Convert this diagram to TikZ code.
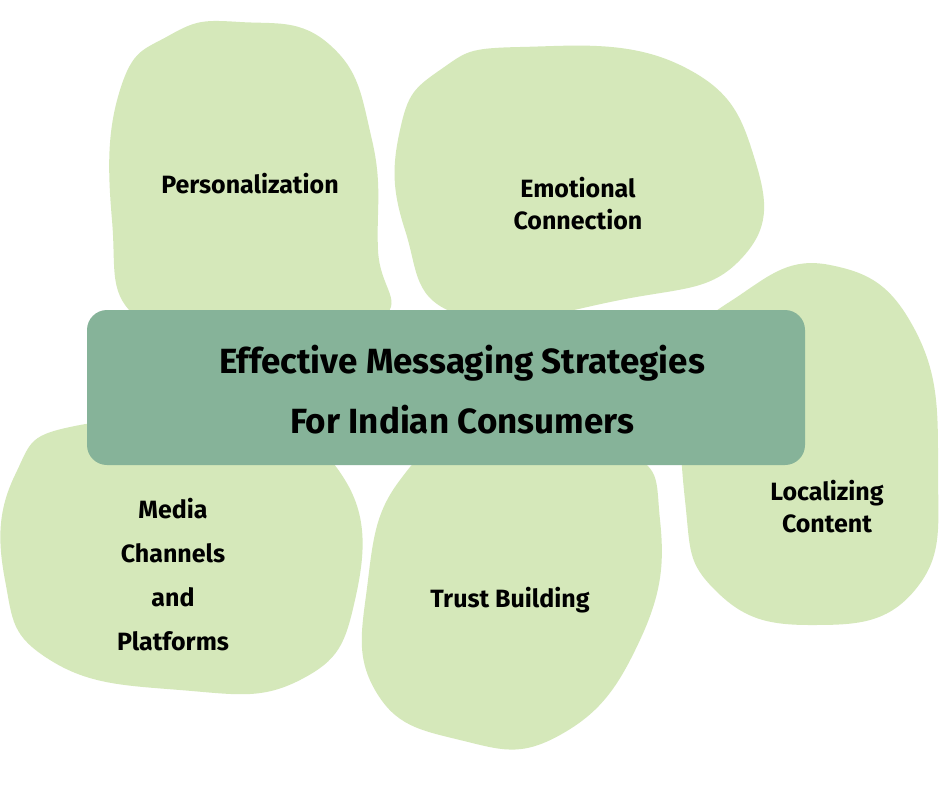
\documentclass[tikz,border=0pt]{standalone}
\usepackage{fontspec}
\setmainfont{Fira Sans}
\usetikzlibrary{positioning}
\definecolor{blob}{HTML}{D5E8BA}
\definecolor{core}{HTML}{86B399}
\begin{document}
\begin{tikzpicture}[x=1pt,y=-1pt,
  blobst/.style={fill=blob,draw=none},
  lab/.style={font=\bfseries\fontsize{25}{32}\selectfont,align=center,text=black},
  ttl/.style={font=\bfseries\fontsize{35}{60}\selectfont,align=center,text=black}]
\useasboundingbox (0,0) rectangle (940,788);
\fill[white] (0,0) rectangle (940,788);
% Personalization
\fill[blobst] plot[smooth cycle,tension=0.8] coordinates {(240,22) (330,45) (372,140) (378,250) (380,320) (260,335) (140,320) (112,220) (120,90) (170,35)};
% Emotional
\fill[blobst] plot[smooth cycle,tension=0.8] coordinates {(520,47) (680,65) (755,160) (740,260) (620,300) (460,315) (405,230) (400,130) (440,70)};
% Localizing
\fill[blobst] plot[smooth cycle,tension=0.8] coordinates {(830,265) (915,330) (938,470) (915,590) (810,625) (715,590) (685,500) (690,360) (740,295)};
% Media
\fill[blobst] plot[smooth cycle,tension=0.8] coordinates {(80,425) (250,430) (345,480) (355,600) (300,680) (180,690) (50,660) (5,580) (15,475)};
% Trust
\fill[blobst] plot[smooth cycle,tension=0.8] coordinates {(470,445) (620,450) (660,520) (640,640) (560,735) (460,740) (375,690) (368,580) (400,480)};
% center
\node[fill=core,rounded corners=20pt,minimum width=718pt,minimum height=155pt,inner sep=0pt] (core) at (446,387.5) {};
\node[ttl] (t) at (462,390) {Effective Messaging Strategies\\For Indian Consumers};
\node[lab] (p) at (250,184) {Personalization};
\node[lab] (e) at (578,204) {Emotional\\Connection};
\node[lab] (l) at (827,507) {Localizing\\Content};
\node[lab,font=\bfseries\fontsize{25}{44}\selectfont] (m) at (173,575) {Media\\Channels\\and\\Platforms};
\node[lab] (tb) at (510,600) {Trust Building};
\end{tikzpicture}
\end{document}
